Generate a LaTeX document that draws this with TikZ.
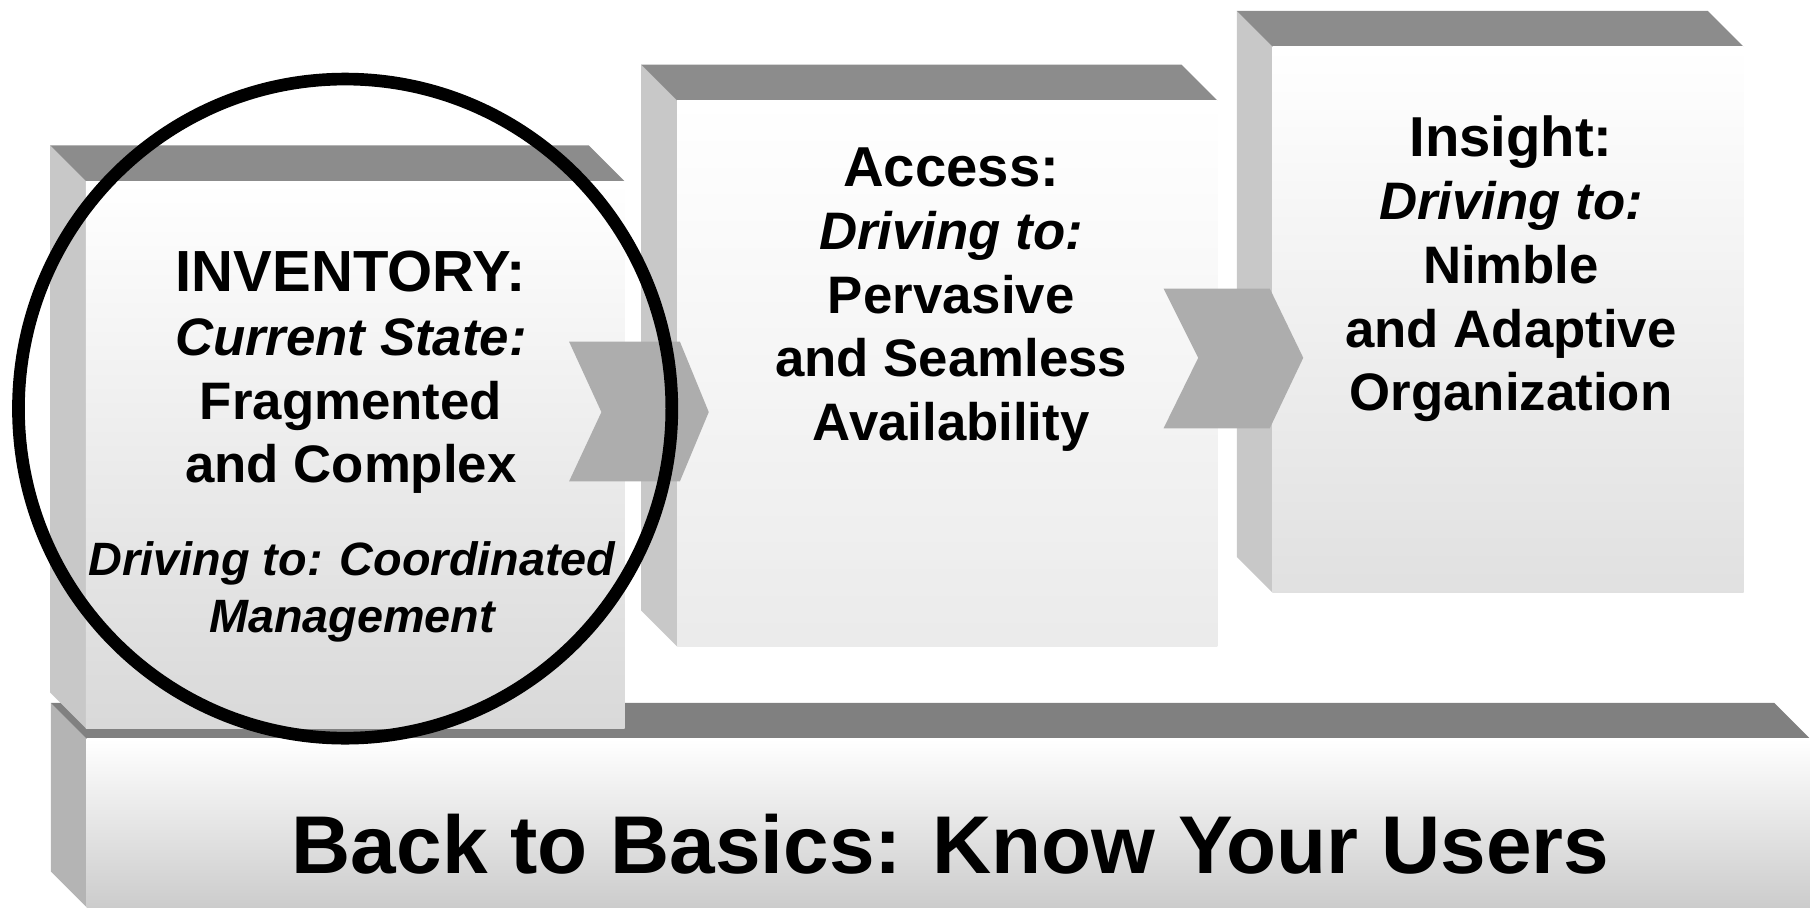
\documentclass[tikz,border=0pt]{standalone}
\usepackage{fontspec}
\setmainfont{Liberation Sans}
\definecolor{topgray}{HTML}{8C8C8C}
\definecolor{basetop}{HTML}{808080}
\definecolor{sidegray}{HTML}{C8C8C8}
\definecolor{baseside}{HTML}{B4B4B4}
\definecolor{chevgray}{HTML}{ADADAD}

\tikzset{
  topface/.style={fill=topgray},
  sideface/.style={fill=sidegray},
  boxtext/.style={align=center,inner sep=0pt,anchor=north,font=\fontsize{15}{18.1}\selectfont\bfseries},
}
% slab: front left x, front top y, front right x, front bottom y, bottom colour
\newcommand{\slab}[5]{%
  \fill[sideface] (#1-31,#2-31) -- (#1,#2) -- (#1,#4) -- (#1-31,#4-31) -- cycle;
  \fill[topface] (#1-31,#2-31) -- (#3-31,#2-31) -- (#3,#2) -- (#1,#2) -- cycle;
  \shade[top color=white,bottom color=#5] (#1,#2) rectangle (#3,#4);
}

\begin{document}
\begin{tikzpicture}[x=0.011543cm,y=-0.011543cm]
			\useasboundingbox (0,0) rectangle (1568,786);
			\clip (0,0) rectangle (1568,786);

			% base
			\begin{scope}[topface/.style={fill=basetop},sideface/.style={fill=baseside}]
				\slab{75}{640}{1568}{786}{black!20}
			\end{scope}
			\node[boxtext,font=\fontsize{23.3}{28}\selectfont\bfseries] (basics) at (823.5,705) {Back to Basics: Know Your Users};

			% three steps
			\slab{74.5}{157}{541}{631}{black!15}
			\slab{586.5}{87}{1054.5}{560}{black!8}
			\slab{1102.5}{40.5}{1510.5}{513.5}{black!12}

			% chevrons
			\fill[chevgray] (493,296) -- (589,296) -- (614,357) -- (589,417) -- (493,417) -- (521,357) -- cycle;
			\fill[chevgray] (1008,250) -- (1100,250) -- (1129,310) -- (1100,371) -- (1008,371) -- (1038,310) -- cycle;

			\node[boxtext] (inv) at (304,217) {{\fontsize{16.5}{18.1}\selectfont INVENTORY:}\\ \textit{Current State:}\\ Fragmented\\ and Complex};
			\node[boxtext,font=\fontsize{13.3}{16}\selectfont\bfseries\itshape] (invgoal) at (305,469) {Driving to: Coordinated\\ Management};
			\node[boxtext] (acc) at (824,127) {{\fontsize{16}{18.1}\selectfont Access:}\\ \textit{Driving to:}\\ Pervasive\\ and Seamless\\ Availability};
			\node[boxtext] (ins) at (1309,99.5) {{\fontsize{16}{18.1}\selectfont Insight:}\\ \textit{Driving to:}\\ Nimble\\ and Adaptive\\ Organization};

			% focus ring
			\draw[line width=3.6pt] (299,354) ellipse [x radius=283,y radius=285.5];
		\end{tikzpicture}
\end{document}
